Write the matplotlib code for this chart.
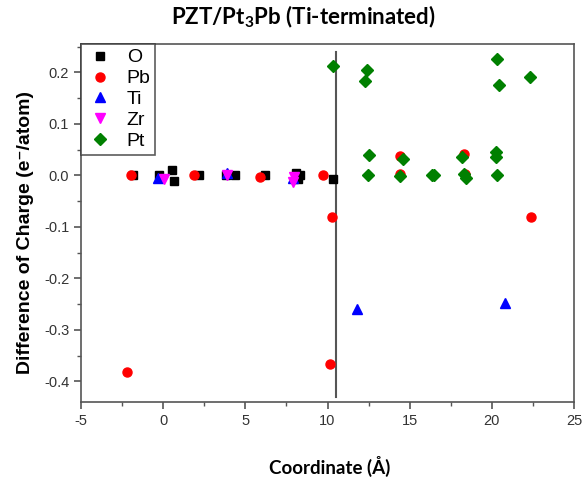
import matplotlib
matplotlib.use("Agg")
from matplotlib import pyplot as plt
from matplotlib.ticker import MultipleLocator

plt.rcParams['axes.unicode_minus'] = False
plt.rcParams['mathtext.fontset'] = 'custom'
plt.rcParams['mathtext.rm'] = 'Lato'
plt.rcParams['mathtext.bf'] = 'Lato:bold'

# charge difference per atom vs coordinate
o_x = [-1.84, -0.27, 0.54, 0.66, 2.16, 3.85, 4.35, 6.22, 8.1, 8.2, 8.3, 10.34]
o_y = [0.0, 0.0, 0.011, -0.01, 0.0, 0.0, 0.0, 0.0, 0.004, -0.008, 0.0, -0.008]

pb_x = [-1.98, 1.87, 5.87, 9.73, -2.18, 10.18, 10.26, 22.4, 14.4, 14.4, 18.29, 18.35]
pb_y = [0.0, 0.0, -0.004, 0.0, -0.382, -0.366, -0.081, -0.081, 0.037, 0.002, 0.042, 0.002]

ti_x = [-0.3, 3.9, 7.9, 11.82, 20.78]
ti_y = [-0.005, 0.004, -0.005, -0.259, -0.248]

zr_x = [0.05, 3.9, 7.9, 7.95]
zr_y = [-0.007, 0.0, -0.013, -0.004]

pt_x = [10.34, 12.43, 12.3, 20.32, 20.42, 22.3, 12.5, 14.6, 18.19, 20.24, 20.28,
        12.47, 14.44, 16.36, 16.46, 18.31, 18.4, 20.34]
pt_y = [0.212, 0.205, 0.183, 0.225, 0.175, 0.191, 0.040, 0.032, 0.036, 0.045, 0.036,
        0.001, -0.001, 0.0, 0.0, 0.003, -0.005, 0.001]

interface_x = 10.5

fig = plt.figure(figsize=(5.84, 4.8), dpi=100)
ax = fig.add_axes([81 / 584, 1 - 402 / 480, 493 / 584, 358 / 480])

ax.plot([interface_x, interface_x], [-0.431, 0.239], color='#555555', lw=1.5)

ax.plot(o_x, o_y, 's', color='black', ms=6, label='O')
ax.plot(pb_x, pb_y, 'o', color='red', ms=6.5, label='Pb')
ax.plot(ti_x, ti_y, '^', color='blue', ms=7, label='Ti')
ax.plot(zr_x, zr_y, 'v', color='magenta', ms=7, label='Zr')
ax.plot(pt_x, pt_y, 'D', color='#008000', ms=6, label='Pt')

ax.set_xlim(-5, 25)
ax.set_ylim(-0.44, 0.255)
ax.xaxis.set_major_locator(MultipleLocator(5))
ax.xaxis.set_minor_locator(MultipleLocator(2.5))
ax.yaxis.set_major_locator(MultipleLocator(0.1))
ax.yaxis.set_minor_locator(MultipleLocator(0.05))
ax.yaxis.set_major_formatter(plt.FuncFormatter(lambda v, p: '%.1f' % v))

for s in ax.spines.values():
    s.set_color('#555555')
    s.set_linewidth(1.2)
ax.tick_params(which='major', direction='out', length=5, width=1.2, color='#555555',
               labelsize=10.5, labelcolor='#333333')
ax.tick_params(which='minor', direction='out', length=3, width=1.0, color='#555555')
for lab in ax.get_xticklabels() + ax.get_yticklabels():
    lab.set_family('Liberation Sans')

leg = ax.legend(loc='upper left', frameon=True, fancybox=False, borderaxespad=0,
                prop={'family': 'Liberation Sans', 'size': 14}, handletextpad=0.6,
                labelspacing=0.17, borderpad=0.25, handlelength=1.5)
leg.get_frame().set_edgecolor('#333333')
leg.get_frame().set_linewidth(1.2)

fig.text(303 / 584, 1 - 17 / 480, r'PZT/Pt$_\mathbf{3}$Pb (Ti-terminated)', ha='center', va='center',
         family='Lato', weight='bold', fontsize=16)
fig.text(330 / 584, 1 - 466 / 480, 'Coordinate (Å)', ha='center', va='center',
         family='Lato', weight='bold', fontsize=13.5)
fig.text(26 / 584, 1 - 233 / 480, 'Difference of Charge (e\u207b/atom)', ha='center', va='center',
         rotation=90, family=['Liberation Sans', 'DejaVu Sans'], weight='bold', fontsize=14)

fig.savefig('out.png', dpi=100)
